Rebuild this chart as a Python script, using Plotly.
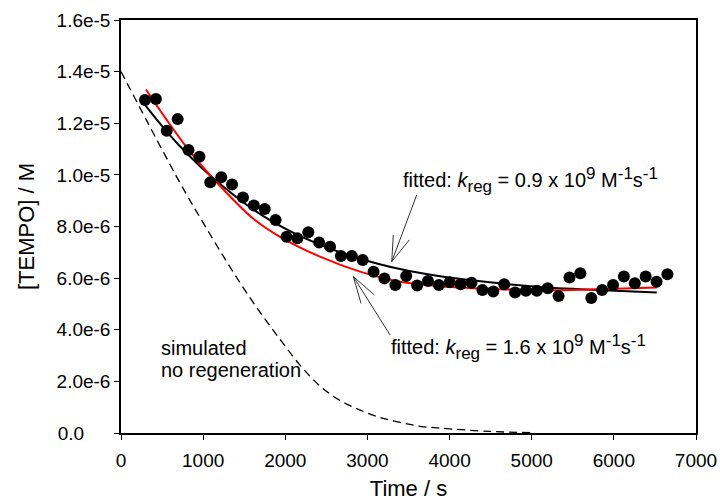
import plotly.graph_objects as go

# ---- data ----
t_data = [292, 425, 557, 690, 822, 955, 1087, 1220, 1352, 1485, 1617, 1750, 1882,
          2015, 2147, 2280, 2412, 2545, 2677, 2810, 2942, 3075, 3207, 3340, 3472,
          3605, 3737, 3870, 4002, 4135, 4267, 4400, 4532, 4665, 4797, 4930, 5062,
          5195, 5327, 5460, 5592, 5725, 5857, 5990, 6122, 6255, 6387, 6520, 6652]
tempo_data = [1.290e-5, 1.294e-5, 1.171e-5, 1.216e-5, 1.096e-5, 1.070e-5, 9.71e-6,
              9.91e-6, 9.63e-6, 9.12e-6, 8.81e-6, 8.68e-6, 8.25e-6, 7.60e-6, 7.54e-6,
              7.78e-6, 7.38e-6, 7.22e-6, 6.86e-6, 6.86e-6, 6.70e-6, 6.25e-6, 5.99e-6,
              5.73e-6, 6.08e-6, 5.71e-6, 5.89e-6, 5.73e-6, 5.84e-6, 5.76e-6, 5.82e-6,
              5.54e-6, 5.48e-6, 5.76e-6, 5.44e-6, 5.51e-6, 5.51e-6, 5.61e-6, 5.31e-6,
              6.02e-6, 6.19e-6, 5.23e-6, 5.54e-6, 5.73e-6, 6.06e-6, 5.80e-6, 6.06e-6,
              5.86e-6, 6.15e-6]

# fitted curve, k_reg = 0.9e9 (black)
fit09_t = [292, 569, 828, 1092, 1611, 2017, 2414, 2910, 3397, 3884, 4606, 5183, 5588, 6522]
fit09_y = [1.271e-5, 1.163e-5, 1.075e-5, 9.96e-6, 8.66e-6, 7.89e-6, 7.31e-6, 6.75e-6,
           6.35e-6, 6.07e-6, 5.80e-6, 5.64e-6, 5.57e-6, 5.44e-6]

# fitted curve, k_reg = 1.6e9 (red)
fit16_t = [304, 556, 828, 1124, 1611, 1936, 2423, 2910, 3397, 3884, 4606, 5183, 5710, 6522]
fit16_y = [1.331e-5, 1.213e-5, 1.095e-5, 9.85e-6, 8.30e-6, 7.60e-6, 6.83e-6, 6.25e-6,
           5.86e-6, 5.69e-6, 5.57e-6, 5.53e-6, 5.56e-6, 5.64e-6]

# simulated, no regeneration (dashed)
sim_t = [0, 718, 962, 1205, 1449, 1692, 1936, 2179, 2423, 2666, 2910, 3153, 3397,
         3640, 3884, 4492, 5000]
sim_y = [1.40e-5, 9.69e-6, 8.35e-6, 7.06e-6, 5.82e-6, 4.68e-6, 3.63e-6, 2.63e-6,
         1.82e-6, 1.26e-6, 8.9e-7, 6.0e-7, 4.1e-7, 2.6e-7, 1.9e-7, 6e-8, 1e-8]

x_ticks = [0, 1000, 2000, 3000, 4000, 5000, 6000, 7000]
y_ticks = [0, 2e-6, 4e-6, 6e-6, 8e-6, 1e-5, 1.2e-5, 1.4e-5, 1.6e-5]
y_ticklabels = ["0.0" + "\u00a0" * 5, "2.0e-6", "4.0e-6", "6.0e-6", "8.0e-6",
                "1.0e-5", "1.2e-5", "1.4e-5", "1.6e-5"]

FONT = "Arial, Liberation Sans, sans-serif"

fig = go.Figure()
fig.add_trace(go.Scatter(x=sim_t, y=sim_y, mode="lines", line_shape="spline",
                         line=dict(color="black", width=1.3, dash="8px,5px")))
fig.add_trace(go.Scatter(x=fit09_t, y=fit09_y, mode="lines", line_shape="spline",
                         line=dict(color="black", width=2)))
fig.add_trace(go.Scatter(x=fit16_t, y=fit16_y, mode="lines", line_shape="spline",
                         line=dict(color="#ff0000", width=2)))
fig.add_trace(go.Scatter(x=t_data, y=tempo_data, mode="markers",
                         marker=dict(color="black", size=12, line=dict(width=0))))

# arrows (shaft + open V head)
arrow_col = "#333333"
arrows = [
    # upper: tail, tip, barb1, barb2
    ((3600, 9.22e-6), (3296, 6.64e-6), (3315, 7.67e-6), (3510, 7.48e-6)),
    # lower
    ((3275, 3.80e-6), (2828, 6.06e-6), (2922, 5.02e-6), (3084, 5.35e-6)),
]
for tail, tip, b1, b2 in arrows:
    for p in (tail, b1, b2):
        fig.add_shape(type="line", x0=p[0], y0=p[1], x1=tip[0], y1=tip[1],
                      xref="x", yref="y", line=dict(color=arrow_col, width=1))


def small(s):
    return "<span style='font-size:17px'>" + s + "</span>"


def label(k):
    return ("fitted: <i>k</i><sub>" + small("reg") + "</sub> = " + k + " x 10<sup>" +
            small("9") + "</sup> M<sup>" + small("-1") + "</sup>s<sup>" + small("-1") + "</sup>")


ann_font = dict(family=FONT, size=20, color="black")
fig.add_annotation(x=3410, y=9.82e-6, xref="x", yref="y", xanchor="left", yanchor="middle",
                   showarrow=False, font=ann_font, text=label("0.9"))
fig.add_annotation(x=3268, y=3.32e-6, xref="x", yref="y", xanchor="left", yanchor="middle",
                   showarrow=False, font=ann_font, text=label("1.6"))
fig.add_annotation(x=458, y=3.29e-6, xref="x", yref="y", xanchor="left", yanchor="middle",
                   showarrow=False, font=ann_font, text="simulated")
fig.add_annotation(x=458, y=2.44e-6, xref="x", yref="y", xanchor="left", yanchor="middle",
                   showarrow=False, font=ann_font, text="no regeneration")

fig.update_layout(
    width=720, height=501,
    margin=dict(l=121, r=24, t=20, b=68),
    paper_bgcolor="white", plot_bgcolor="white",
    showlegend=False,
    font=dict(family=FONT, size=19, color="black"),
)
fig.update_xaxes(range=[0, 7000], tickvals=x_ticks, ticks="outside", ticklen=5,
                 tickwidth=1.3, tickcolor="black", showline=True, linecolor="black",
                 linewidth=1.5, mirror=True, showgrid=False, zeroline=False,
                 ticklabelstandoff=4, automargin=False,
                 tickfont=dict(size=19), title=dict(text="Time / s", font=dict(size=22), standoff=12))
fig.update_yaxes(range=[0, 1.6e-5], tickvals=y_ticks, ticktext=y_ticklabels, ticks="outside",
                 ticklen=5, tickwidth=1.3, tickcolor="black", showline=True, linecolor="black",
                 linewidth=1.5, mirror=True, showgrid=False, zeroline=False, automargin=False,
                 tickfont=dict(size=19), title=dict(text="[TEMPO] / M", font=dict(size=22), standoff=16))

fig.write_html("out.html")
